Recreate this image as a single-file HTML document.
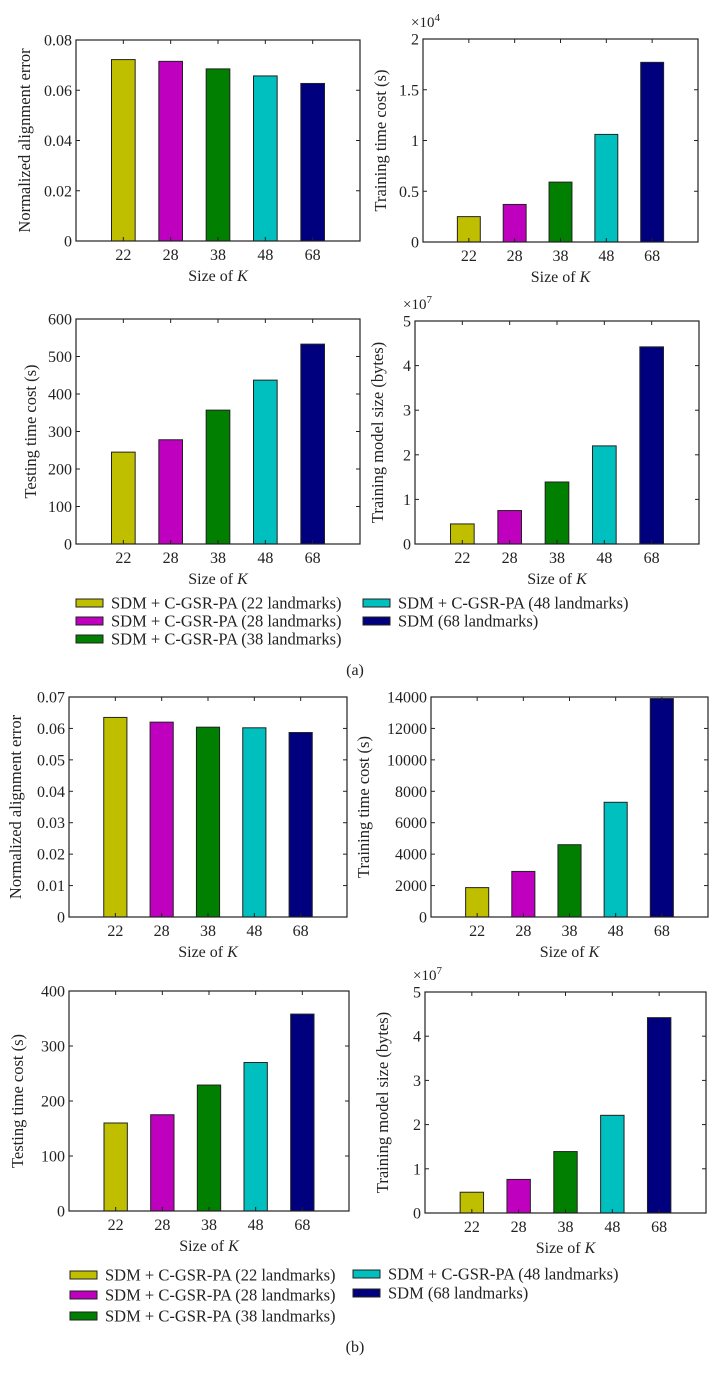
<!DOCTYPE html>
<html><head><meta charset="utf-8">
<style>
html,body{margin:0;padding:0;background:#fff;}
svg{display:block;font-family:"Liberation Serif",serif;}
</style></head>
<body>
<svg id="fig" width="719" height="1379" viewBox="0 0 719 1379" xmlns="http://www.w3.org/2000/svg"></svg>
<script>
const categories = ["22","28","38","48","68"];
const colors = ["#bfbf00","#bf00bf","#007f00","#00bfbf","#00007f"];
const legendLabels = ["SDM + C-GSR-PA (22 landmarks)","SDM + C-GSR-PA (28 landmarks)","SDM + C-GSR-PA (38 landmarks)","SDM + C-GSR-PA (48 landmarks)","SDM (68 landmarks)"];

const a1Values = [0.0722,0.0715,0.0685,0.0657,0.0627];
const a1Ticks = ["0","0.02","0.04","0.06","0.08"];
const a2Values = [0.25,0.37,0.59,1.06,1.77];
const a2Ticks = ["0","0.5","1","1.5","2"];
const a3Values = [245,278,357,437,533];
const a3Ticks = ["0","100","200","300","400","500","600"];
const a4Values = [0.45,0.75,1.39,2.2,4.42];
const a4Ticks = ["0","1","2","3","4","5"];
const b1Values = [0.0635,0.062,0.0604,0.0602,0.0587];
const b1Ticks = ["0","0.01","0.02","0.03","0.04","0.05","0.06","0.07"];
const b2Values = [1870,2900,4600,7300,13900];
const b2Ticks = ["0","2000","4000","6000","8000","10000","12000","14000"];
const b3Values = [160,175,229,270,358];
const b3Ticks = ["0","100","200","300","400"];
const b4Values = [0.47,0.76,1.39,2.21,4.42];
const b4Ticks = ["0","1","2","3","4","5"];

const NS="http://www.w3.org/2000/svg";
const svg=document.getElementById('fig');
function mk(tag,attrs,parent,text){const e=document.createElementNS(NS,tag);for(const k in attrs)e.setAttribute(k,attrs[k]);if(text!==undefined)e.textContent=text;(parent||svg).appendChild(e);return e;}

function panel(id,box,values,ticks,ylabel,ylabelX,mult){
  const g=mk('g',{});
  
  
  const L=box[0],R=box[1],T=box[2],B=box[3];
  const ymax=parseFloat(ticks[ticks.length-1]);
  const xS=v=>L+(R-L)*v/6;
  const yS=v=>B-(B-T)*v/ymax;
  const bw=(R-L)/6*0.5;
  values.forEach((v,i)=>{
    const r=mk('rect',{x:xS(i+1)-bw/2,y:yS(v),width:bw,height:B-yS(v),fill:colors[i],stroke:'#222','stroke-width':1},g);
    
    
  });
  const frame=mk('rect',{x:L,y:T,width:R-L,height:B-T,fill:'none',stroke:'#222','stroke-width':1.2},g);
  
  
  ticks.forEach(t=>{
    const y=yS(parseFloat(t));
    mk('line',{x1:L,x2:L+4,y1:y,y2:y,stroke:'#222'},g);
    mk('line',{x1:R,x2:R-4,y1:y,y2:y,stroke:'#222'},g);
    const tl=mk('text',{x:L-4,y:y+5.5,'text-anchor':'end','font-size':16,fill:'#222'},g,t);
    
    
  });
  categories.forEach((c,i)=>{
    const x=xS(i+1);
    mk('line',{x1:x,x2:x,y1:B,y2:B-4,stroke:'#222'},g);
    mk('line',{x1:x,x2:x,y1:T,y2:T+4,stroke:'#222'},g);
    const tl=mk('text',{x:x,y:B+19,'text-anchor':'middle','font-size':16,fill:'#222'},g,c);
    
    
  });
  const xt=mk('text',{x:(L+R)/2,y:B+40,'text-anchor':'middle','font-size':16,fill:'#222'},g);
  
  
  xt.appendChild(document.createTextNode('Size of '));
  mk('tspan',{'font-style':'italic'},xt,'K');
  const yt=mk('text',{x:ylabelX,y:(T+B)/2,'text-anchor':'middle','font-size':16.5,fill:'#222',transform:'rotate(-90 '+ylabelX+' '+(T+B)/2+')'},g,ylabel);
  
  
  if(mult){
    const m=mk('text',{x:L-12,y:T-12,'font-size':15,fill:'#222'},g);
    
    
    m.appendChild(document.createTextNode('×10'));
    mk('tspan',{'font-size':11,dy:-6},m,mult);
  }
}

panel('a-alignment-error',[76,360,40,241],a1Values,a1Ticks,'Normalized alignment error',30,null);
panel('a-training-time',[423,698,39,242],a2Values,a2Ticks,'Training time cost (s)',386,'4');
panel('a-testing-time',[76,360,319,544],a3Values,a3Ticks,'Testing time cost (s)',36,null);
panel('a-model-size',[415,699,321,544],a4Values,a4Ticks,'Training model size (bytes)',383,'7');
panel('b-alignment-error',[69,347,697,917],b1Values,b1Ticks,'Normalized alignment error',21,null);
panel('b-training-time',[431,708,697,917],b2Values,b2Ticks,'Training time cost (s)',369,null);
panel('b-testing-time',[69,349,991,1211],b3Values,b3Ticks,'Testing time cost (s)',23,null);
panel('b-model-size',[425,706,992,1213],b4Values,b4Ticks,'Training model size (bytes)',388,'7');

function legend(id,pos){
  const g=mk('g',{});
  
  
  pos.forEach((p,i)=>{
    const e=mk('g',{},g);
    
    
    mk('rect',{x:p[0],y:p[1]-4,width:27,height:8,fill:colors[i],stroke:'#222','stroke-width':1},e);
    mk('text',{x:p[0]+35,y:p[1]+5.5,'font-size':16.5,fill:'#222'},e,legendLabels[i]);
  });
}
legend('legend-a',[[76,603],[76,621],[76,639],[363,603],[363,621]]);
legend('legend-b',[[70,1275],[70,1295],[70,1316],[353,1274],[353,1293]]);

const ca=mk('text',{x:355,y:675,'text-anchor':'middle','font-size':16,fill:'#222'},svg,'(a)');


const cb=mk('text',{x:355,y:1352,'text-anchor':'middle','font-size':16,fill:'#222'},svg,'(b)');


</script>
</body></html>
